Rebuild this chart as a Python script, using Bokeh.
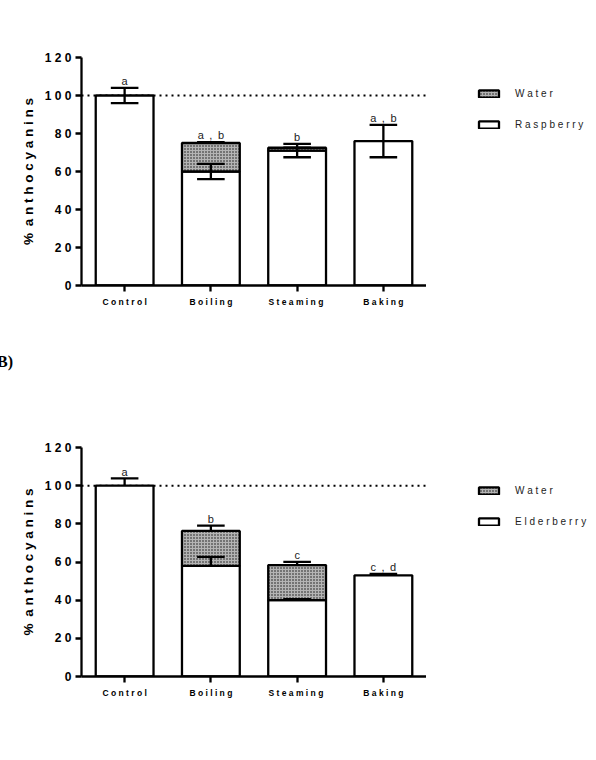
from bokeh.plotting import figure
from bokeh.models import Range1d, FixedTicker, Span, Legend, LegendItem, ColumnDataSource, Div
from bokeh.layouts import column, row
from bokeh.embed import file_html
from bokeh.resources import INLINE
from bokeh.core.properties import value

categories = ["Control", "Boiling", "Steaming", "Baking"]
cat_labels = ["C o n t r o l", "B o i l i n g", "S t e a m  i n g", "B a k i n g"]
y_ticks = [0, 20, 40, 60, 80, 100, 120]
y_tick_labels = ["0", "2 0", "4 0", "6 0", "8 0", "1 0 0", "1 2 0"]

# Panel A (raspberry)
rasp_mean = [100, 60, 71, 76]
rasp_err = [4, 4, 3.5, 8.5]
water_a_mean = [0, 15, 1.5, 0]
water_a_err = [0, 0.5, 0, 0]
letters_a = ["a", "a\u2002,\u2002b", "b", "a\u2002,\u2002b"]

# Panel B (elderberry)
elder_mean = [100, 58, 40, 53]
elder_err = [3.8, 4.7, 0.5, 0.7]
water_b_mean = [0, 18.3, 18.4, 0]
water_b_err = [0, 2.8, 1.7, 0]
letters_b = ["a", "b", "c", "c\u2002,\u2002d"]

FONT = "Liberation Sans"
LW = 2.3
BAR_W = 0.67
CAP = 0.16
FRUIT_STYLE = dict(fill_color="white", line_color="black", line_width=LW)
WATER_STYLE = dict(fill_color="#b4b4b4", line_color="black", line_width=LW,
                   hatch_pattern="dot", hatch_scale=3, hatch_weight=3,
                   hatch_color="#111111")


def make_panel(fruit_label, fruit_mean, fruit_err, water_mean, water_err, letters,
               symmetric, height, border_top, border_bottom, legend_loc):
    p = figure(width=426, height=height, output_backend="svg", toolbar_location=None,
               x_range=Range1d(-0.5, 3.5), y_range=Range1d(0, 120),
               min_border_left=81, min_border_right=0,
               min_border_top=border_top, min_border_bottom=border_bottom)
    p.outline_line_color = None
    p.xgrid.visible = False
    p.ygrid.visible = False
    p.border_fill_alpha = 0

    xs = list(range(len(categories)))

    p.add_layout(Span(location=100, dimension="width", line_color="black", line_width=2,
                      line_dash="2 4", level="underlay"))

    p.vbar(x=xs, top=fruit_mean, bottom=0, width=BAR_W, **FRUIT_STYLE)

    wi = [i for i in xs if water_mean[i] > 0]
    wsrc = ColumnDataSource(dict(
        x=[xs[i] for i in wi],
        bottom=[fruit_mean[i] for i in wi],
        top=[fruit_mean[i] + water_mean[i] for i in wi]))
    p.vbar(x="x", top="top", bottom="bottom", width=BAR_W, source=wsrc, **WATER_STYLE)

    up = [m + e for m, e in zip(fruit_mean, fruit_err)]
    lo = [m - e if symmetric else m for m, e in zip(fruit_mean, fruit_err)]
    p.segment(x0=xs, y0=lo, x1=xs, y1=up, line_color="black", line_width=LW)
    p.segment(x0=[x - CAP for x in xs], y0=up, x1=[x + CAP for x in xs], y1=up,
              line_color="black", line_width=LW)
    if symmetric:
        p.segment(x0=[x - CAP for x in xs], y0=lo, x1=[x + CAP for x in xs], y1=lo,
                  line_color="black", line_width=LW)

    wtop = [fruit_mean[i] + water_mean[i] for i in wi]
    wup = [fruit_mean[i] + water_mean[i] + water_err[i] for i in wi]
    wx = [xs[i] for i in wi]
    p.segment(x0=wx, y0=wtop, x1=wx, y1=wup, line_color="black", line_width=LW)
    p.segment(x0=[x - CAP for x in wx], y0=wup, x1=[x + CAP for x in wx], y1=wup,
              line_color="black", line_width=LW)

    tops = [max(up[i], fruit_mean[i] + water_mean[i] + water_err[i]) for i in xs]
    p.text(x=xs, y=[t + 3.6 for t in tops], text=letters, text_align="center",
           text_baseline="alphabetic", text_font=value(FONT), text_font_size="11px",
           text_color="#222222")

    p.xaxis.ticker = FixedTicker(ticks=xs)
    p.xaxis.major_label_overrides = {i: lab for i, lab in zip(xs, cat_labels)}
    p.xaxis.minor_tick_line_color = None
    p.xaxis.major_tick_out = 6
    p.xaxis.major_tick_in = 0
    p.xaxis.axis_line_width = LW
    p.xaxis.major_tick_line_width = LW
    p.xaxis.major_label_standoff = 5
    p.xaxis.major_label_text_font = FONT
    p.xaxis.major_label_text_font_style = "bold"
    p.xaxis.major_label_text_font_size = "8.5px"
    p.xaxis.major_label_text_color = "black"

    p.yaxis.ticker = FixedTicker(ticks=y_ticks)
    p.yaxis.major_label_overrides = {t: lab for t, lab in zip(y_ticks, y_tick_labels)}
    p.yaxis.minor_tick_line_color = None
    p.yaxis.major_tick_out = 6
    p.yaxis.major_tick_in = 0
    p.yaxis.axis_line_width = LW
    p.yaxis.major_tick_line_width = LW
    p.yaxis.major_label_standoff = 4
    p.yaxis.major_label_text_font = FONT
    p.yaxis.major_label_text_font_style = "bold"
    p.yaxis.major_label_text_font_size = "12px"
    p.yaxis.major_label_text_color = "black"
    p.yaxis.axis_label = "%\u2002a n t h o c y a n i n s"
    p.yaxis.axis_label_text_font = FONT
    p.yaxis.axis_label_text_font_style = "bold"
    p.yaxis.axis_label_text_font_size = "13.5px"
    p.yaxis.axis_label_standoff = 6
    p.yaxis.axis_label_text_color = "black"

    # legend lives in its own narrow figure to the right (frames are aligned by row)
    lg = figure(width=170, height=height, output_backend="svg", toolbar_location=None,
                x_range=Range1d(0, 1), y_range=Range1d(0, 1), min_border=0)
    lg.axis.visible = False
    lg.grid.visible = False
    lg.outline_line_color = None
    lg.border_fill_alpha = 0
    # legend keys only: their single bar has no drawable value
    nan = float("nan")
    w_r = lg.vbar(x=[nan], top=[nan], width=0.5, **WATER_STYLE)
    f_r = lg.vbar(x=[nan], top=[nan], width=0.5, **FRUIT_STYLE)
    legend = Legend(items=[LegendItem(label="W a t e r", renderers=[w_r]),
                           LegendItem(label=" ".join(fruit_label), renderers=[f_r])],
                    location=legend_loc, orientation="vertical",
                    border_line_color=None, background_fill_alpha=0,
                    glyph_width=25, glyph_height=9, label_height=12, spacing=19,
                    padding=0, margin=0, label_standoff=14,
                    label_text_font=FONT, label_text_font_size="10px",
                    label_text_color="#222222")
    lg.add_layout(legend)
    return p, lg


pa, la = make_panel("Raspberry", rasp_mean, rasp_err, water_a_mean, water_a_err, letters_a,
                    True, 380, 57, 95, (50, 155))
pb, lb = make_panel("Elderberry", elder_mean, elder_err, water_b_mean, water_b_err, letters_b,
                    False, 380, 67, 84, (50, 149))


def panel_tag(text, left, top):
    return Div(text=f'<span style="position:absolute; left:{left}px; top:{top}px; '
                    f'font: bold 16px \'Liberation Serif\'; color:black; '
                    f'white-space:nowrap;">{text}</span>',
               width=596, height=0, margin=0,
               styles={"position": "relative", "overflow": "visible", "z-index": "5"})


div_a = panel_tag("A)", 3, -19)
div_b = panel_tag("B)", -3, -27)

layout = column(div_a, row(pa, la, spacing=0), div_b, row(pb, lb, spacing=0), spacing=0)
open("out.html", "w").write(file_html(layout, INLINE))
